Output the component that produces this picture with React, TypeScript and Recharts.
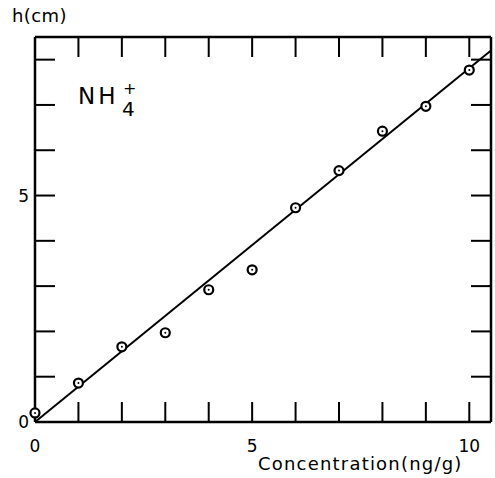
import React from 'react';
import { ComposedChart, Scatter, XAxis, YAxis } from 'recharts';

const CONCENTRATION = [0, 1, 2, 3, 4, 5, 6, 7, 8, 9, 10];
const HEIGHT_CM = [0.2, 0.86, 1.66, 1.97, 2.92, 3.36, 4.73, 5.55, 6.42, 6.97, 7.77];
const FIT_X = [0, 10.5];
const FIT_Y = [0, 8.2];
const X_TICKS = [0, 1, 2, 3, 4, 5, 6, 7, 8, 9, 10];
const Y_TICKS = [0, 1, 2, 3, 4, 5, 6, 7, 8];
const X_LABELS = [0, 5, 10];
const Y_LABELS = [0, 5];

const points = CONCENTRATION.map((x, i) => ({ x, y: HEIGHT_CM[i] }));
const fit = FIT_X.map((x, i) => ({ x, y: FIT_Y[i] }));

const FONT = '"DejaVu Sans", sans-serif';
const TICK_LEN = 20;

const BottomTick = (props: any) => {
  const { x, y, payload } = props;
  const v = payload.value;
  return (
    <g>
      {v > 0 && <line x1={x} y1={y} x2={x} y2={y - TICK_LEN} stroke="#000" strokeWidth={2} />}
      {X_LABELS.includes(v) && (
        <text x={x} y={y + 30} textAnchor="middle" fontSize={17} fontFamily={FONT} fill="#000">
          {v}
        </text>
      )}
    </g>
  );
};

const TopTick = (props: any) => {
  const { x, y, payload } = props;
  if (payload.value <= 0) return <g />;
  return <line x1={x} y1={y} x2={x} y2={y + TICK_LEN} stroke="#000" strokeWidth={2} />;
};

const LeftTick = (props: any) => {
  const { x, y, payload } = props;
  const v = payload.value;
  return (
    <g>
      {v > 0 && <line x1={x} y1={y} x2={x + TICK_LEN} y2={y} stroke="#000" strokeWidth={2} />}
      {Y_LABELS.includes(v) && (
        <text x={x - 6} y={y + 6} textAnchor="end" fontSize={17} fontFamily={FONT} fill="#000">
          {v}
        </text>
      )}
    </g>
  );
};

const RightTick = (props: any) => {
  const { x, y, payload } = props;
  if (payload.value <= 0) return <g />;
  return <line x1={x} y1={y} x2={x - TICK_LEN} y2={y} stroke="#000" strokeWidth={2} />;
};

const Marker = (props: any) => {
  const { cx, cy } = props;
  return (
    <g>
      <circle cx={cx} cy={cy} r={4.5} fill="#fff" stroke="#000" strokeWidth={2.2} />
      <circle cx={cx} cy={cy} r={1} fill="#000" />
    </g>
  );
};

const NoShape = () => <g />;

const App: React.FC = () => {
  return (
    <div style={{ position: 'absolute', left: 0, top: 0, width: 495, height: 478, background: '#fff' }}>
      <ComposedChart width={495} height={478} margin={{ top: 36, right: 3, left: 0, bottom: 0 }}>
        <XAxis
          xAxisId="b"
          type="number"
          dataKey="x"
          domain={[0, 10.5]}
          ticks={X_TICKS}
          tickLine={false}
          tickSize={0}
          tickMargin={0}
          height={56}
          axisLine={{ stroke: '#000', strokeWidth: 2.5 }}
          tick={BottomTick}
          interval={0}
        />
        <XAxis
          xAxisId="t"
          orientation="top"
          type="number"
          dataKey="x"
          domain={[0, 10.5]}
          ticks={X_TICKS}
          tickLine={false}
          tickSize={0}
          tickMargin={0}
          height={1}
          axisLine={{ stroke: '#000', strokeWidth: 2.5 }}
          tick={TopTick}
          interval={0}
        />
        <YAxis
          yAxisId="l"
          type="number"
          dataKey="y"
          domain={[0, 8.5]}
          ticks={Y_TICKS}
          tickLine={false}
          tickSize={0}
          tickMargin={0}
          width={35}
          axisLine={{ stroke: '#000', strokeWidth: 2.5 }}
          tick={LeftTick}
          interval={0}
        />
        <YAxis
          yAxisId="r"
          orientation="right"
          type="number"
          dataKey="y"
          domain={[0, 8.5]}
          ticks={Y_TICKS}
          tickLine={false}
          tickSize={0}
          tickMargin={0}
          width={1}
          axisLine={{ stroke: '#000', strokeWidth: 2.5 }}
          tick={RightTick}
          interval={0}
        />
        <Scatter
          xAxisId="b"
          yAxisId="l"
          data={fit}
          line={{ stroke: '#000', strokeWidth: 2 }}
          shape={NoShape}
          isAnimationActive={false}
        />
        <Scatter xAxisId="t" yAxisId="r" data={points} shape={NoShape} isAnimationActive={false} />
        <Scatter xAxisId="b" yAxisId="l" data={points} shape={Marker} isAnimationActive={false} />
      </ComposedChart>
      <div style={{ position: 'absolute', left: 12, top: 6, fontFamily: FONT, fontSize: 18, lineHeight: '20px', letterSpacing: 0.4 }}>
        h(cm)
      </div>
      <div style={{ position: 'absolute', left: 258, top: 454, fontFamily: FONT, fontSize: 18, lineHeight: '20px', letterSpacing: 1.2 }}>
        Concentration(ng/g)
      </div>
      <div style={{ position: 'absolute', left: 78, top: 82, fontFamily: FONT, fontSize: 23, lineHeight: '28px', letterSpacing: 3 }}>
        NH
      </div>
      <div style={{ position: 'absolute', left: 123, top: 81, fontFamily: FONT, fontSize: 16, lineHeight: '16px' }}>+</div>
      <div style={{ position: 'absolute', left: 122, top: 99, fontFamily: FONT, fontSize: 20, lineHeight: '20px' }}>4</div>
    </div>
  );
};

export default App;
